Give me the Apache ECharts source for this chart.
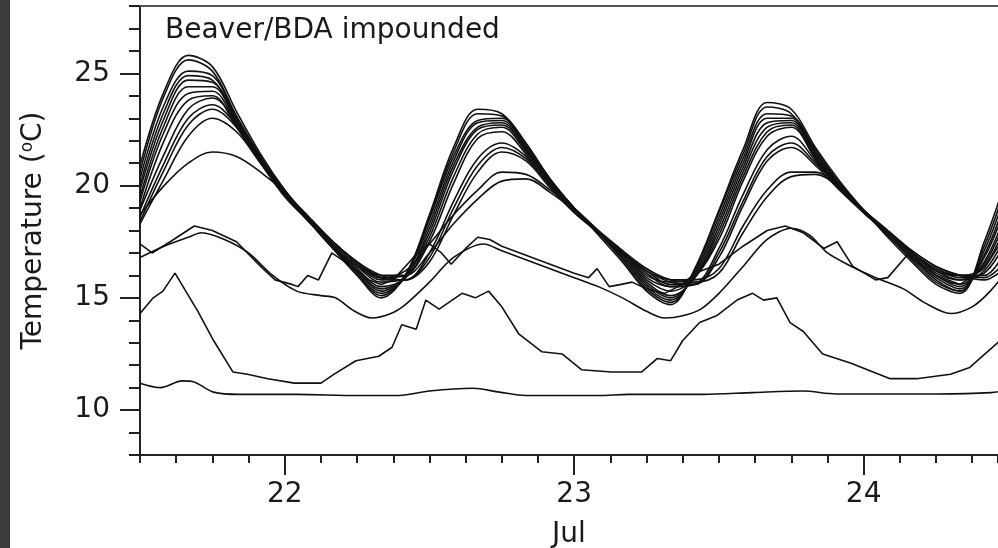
<!DOCTYPE html>
<html>
<head>
<meta charset="utf-8" />
<title></title>
<script src="https://cdn.jsdelivr.net/npm/echarts@6/dist/echarts.min.js"></script>
<style type="text/css">
  body, html {margin:0;padding:0;background:#fff;}
  #main {width:998px;height:548px;position:relative;}
  #strip {position:absolute;left:0;top:0;width:10px;height:548px;background:#3b3b3b;}
</style>
</head>
<body>
<div id="main"></div>
<div id="strip"></div>
<script type="text/javascript">
// hours since Jul 21 00:00
var hours = [12,14,16,18,20,22,24,26,28,30,32,34,36,38,40,42,44,46,48,50,52,54,56,58,60,62,64,66,68,70,72,74,76,78,80,82,84];

// main bundle of loggers (strong diel swing)
var a1 = [20.9,24.2,25.8,25.3,23.3,21.4,19.8,18.5,17.2,16.0,15.0,16.0,18.7,21.7,23.4,23.2,21.9,20.3,19.0,17.8,16.6,15.3,14.7,16.3,18.9,21.6,23.7,23.4,21.7,20.2,18.9,17.7,16.6,15.6,15.2,17.5,20.6];
var a2 = [20.6,24.0,25.6,25.1,23.1,21.3,19.8,18.5,17.3,16.1,15.1,16.0,18.6,21.5,23.2,23.1,21.8,20.3,19.0,17.9,16.7,15.4,14.8,16.2,18.8,21.4,23.5,23.2,21.6,20.1,18.9,17.8,16.7,15.7,15.3,17.3,20.3];
var a3 = [20.3,23.6,25.1,24.9,23.0,21.2,19.7,18.4,17.2,16.1,15.2,16.0,18.5,21.3,22.9,23.0,21.7,20.2,19.0,17.9,16.8,15.5,14.9,16.1,18.6,21.2,23.2,23.1,21.5,20.0,18.9,17.8,16.8,15.8,15.3,17.1,20.0];
var a4 = [20.0,23.3,24.9,24.7,22.9,21.2,19.7,18.5,17.3,16.2,15.3,16.0,18.3,21.1,22.8,22.9,21.7,20.2,19.0,17.9,16.8,15.6,15.0,16.0,18.4,21.0,23.0,23.0,21.4,20.1,18.9,17.8,16.8,15.9,15.4,16.9,19.7];
var a5 = [19.8,23.0,24.7,24.6,22.9,21.1,19.6,18.4,17.2,16.2,15.4,15.9,18.1,20.9,22.6,22.8,21.6,20.1,18.9,17.9,16.9,15.7,15.1,15.9,18.2,20.8,22.8,22.9,21.3,20.0,18.9,17.9,16.9,16.0,15.5,16.8,19.4];
var a6 = [19.5,22.7,24.4,24.4,22.8,21.1,19.6,18.4,17.3,16.3,15.5,15.9,17.9,20.7,22.5,22.7,21.6,20.1,18.9,17.9,16.9,15.8,15.3,15.9,18.0,20.6,22.6,22.8,21.3,20.0,18.9,17.9,16.9,16.0,15.6,16.6,19.1];
var a7 = [19.3,22.4,24.1,24.2,22.7,21.0,19.6,18.4,17.3,16.4,15.7,15.9,17.7,20.4,22.3,22.6,21.5,20.1,18.9,17.9,17.0,15.9,15.5,15.9,17.8,20.4,22.4,22.7,21.2,20.0,18.9,17.9,17.0,16.1,15.8,16.5,18.8];
var a8 = [19.0,22.0,23.8,24.0,22.6,21.0,19.5,18.4,17.3,16.4,15.9,16.0,17.5,20.1,22.1,22.4,21.4,20.0,18.9,17.9,17.0,16.0,15.7,16.0,17.6,20.2,22.2,22.6,21.2,19.9,18.8,17.9,17.0,16.2,16.0,16.4,18.5];
// damped ones
var b1 = [18.9,21.4,23.4,23.9,22.8,21.2,19.7,18.5,17.4,16.5,15.8,15.8,17.0,19.3,21.2,21.9,21.3,20.0,18.9,17.9,17.0,16.1,15.5,15.6,17.2,19.6,21.6,22.2,21.1,19.9,18.8,17.9,17.0,16.2,15.8,16.2,18.0];
var b2 = [18.6,21.0,23.0,23.6,22.7,21.2,19.7,18.5,17.4,16.5,15.9,15.8,16.8,19.0,20.9,21.7,21.2,20.0,18.9,17.9,17.0,16.2,15.6,15.6,17.0,19.3,21.3,21.9,21.0,19.9,18.8,17.9,17.0,16.3,15.9,16.1,17.7];
var b3 = [18.4,20.7,22.7,23.4,22.6,21.1,19.7,18.5,17.5,16.6,16.0,15.8,16.6,18.7,20.6,21.5,21.1,19.9,18.8,17.9,17.0,16.2,15.7,15.6,16.8,19.1,21.1,21.7,20.9,19.8,18.8,17.9,17.0,16.3,16.0,16.0,17.4];
var c1 = [18.7,20.0,21.0,21.5,21.3,20.6,19.7,18.6,17.5,16.6,15.9,16.2,17.4,18.7,19.8,20.6,20.5,19.8,19.0,18.0,17.1,16.3,15.8,15.8,16.3,18.2,19.8,20.6,20.6,19.9,18.9,18.0,17.1,16.4,16.0,15.9,16.8];
var c2 = [18.3,20.3,22.2,23.0,22.4,21.0,19.7,18.6,17.5,16.6,16.0,16.0,17.0,18.3,19.4,20.2,20.3,19.7,18.9,18.0,17.1,16.3,15.8,15.7,16.1,17.9,19.5,20.4,20.5,19.9,18.9,18.0,17.1,16.4,16.0,15.8,16.5];

// irregular loggers: [hour, temp]
var d1 = [[12,17.4],[13,17.0],[14.5,17.5],[16.5,18.2],[18,18.0],[20,17.5],[22,16.4],[23.2,15.8],[24.6,15.6],[25.1,15.5],[25.9,16.0],[26.8,15.8],[27.9,17.0],[29,16.6],[30,16.2],[31,15.8],[32,15.6],[33,15.8],[34,16.4],[35,17.0],[36,17.4],[37,17.0],[37.8,16.5],[39,17.2],[40,17.7],[41,17.6],[42,17.3],[44,16.9],[46,16.5],[48,16.1],[49.2,15.9],[49.9,16.3],[50.9,15.5],[51.9,15.6],[52.8,15.7],[54,15.4],[55.5,15.2],[57,15.6],[58,16.1],[60,16.5],[62,17.3],[64,18.0],[65.5,18.2],[67,17.9],[68.7,17.2],[69.8,17.5],[71.1,16.4],[73,15.8],[74,15.9],[75.6,16.9],[77,16.4],[78,16.0],[80,15.6],[82,16.3],[84,18.0]];
var d2 = [[12,16.8],[14,17.3],[16,17.7],[17.1,17.9],[19,17.6],[21,17.0],[23,16.0],[25,15.3],[27,15.1],[28.2,15.0],[29.8,14.4],[31.2,14.1],[32.8,14.3],[34,14.7],[36,15.7],[38,16.8],[40.5,17.4],[42,17.1],[44,16.7],[46,16.3],[48,15.9],[50,15.5],[52,15.0],[54,14.4],[55.5,14.1],[57,14.2],[58.5,14.5],[60,15.2],[62,16.4],[64,17.6],[66,18.1],[67.5,17.8],[69,17.0],[71,16.4],[73,15.9],[75.3,15.4],[77,14.8],[79.2,14.3],[81,14.6],[82.5,15.3],[84,16.3]];
var f1 = [[12,14.3],[13.1,15.0],[13.9,15.3],[14.9,16.1],[16.8,14.4],[18.1,13.1],[19.7,11.7],[20.9,11.6],[22.6,11.4],[24.8,11.2],[27.0,11.2],[28.1,11.6],[29.9,12.2],[31.8,12.4],[32.9,12.8],[33.7,13.8],[34.9,13.6],[35.7,14.9],[36.8,14.5],[38.7,15.2],[39.8,15.0],[40.9,15.3],[42.0,14.6],[43.4,13.4],[45.3,12.6],[47.0,12.5],[48.6,11.8],[51.1,11.7],[53.6,11.7],[54.9,12.3],[56.0,12.2],[57.0,13.1],[58.4,13.9],[59.8,14.2],[61.5,14.9],[62.8,15.2],[63.7,14.9],[64.8,15.0],[65.9,13.9],[67.0,13.5],[68.6,12.5],[70.9,12.1],[74.2,11.4],[76.4,11.4],[79.2,11.6],[80.8,11.9],[83.1,13.0],[84,13.4]];
var g1 = [[12,11.2],[13.7,11.0],[15.5,11.3],[16.5,11.25],[18.1,10.8],[20.3,10.7],[25,10.7],[30,10.65],[33.5,10.65],[36,10.85],[39.6,10.97],[41.8,10.8],[44,10.65],[50,10.65],[52.5,10.7],[58.7,10.7],[62.8,10.78],[67,10.85],[69.7,10.72],[78,10.72],[82.6,10.78],[84,10.9]];

var dayTicks = [24, 48, 72];
var tempTicks = [10, 15, 20, 25];

var font = 'DejaVu Sans';
var ink = '#1a1a1a';

var chart = echarts.init(document.getElementById('main'));

var series = [];
[a1,a2,a3,a4,a5,a6,a7,a8,b1,b2,b3,c1,c2].forEach(function (arr) {
    series.push({
        type: 'line',
        data: arr.map(function (v, i) { return [hours[i], v]; }),
        smooth: 0.35,
        symbol: 'none',
        lineStyle: {color: '#111', width: 1.6}
    });
});
[d1, d2, f1, g1].forEach(function (arr, k) {
    series.push({
        type: 'line',
        data: arr,
        smooth: k == 1 || k == 3 ? 0.3 : false,
        symbol: 'none',
        lineStyle: {color: '#111', width: 1.6}
    });
});

var option = {
    animation: false,
    backgroundColor: '#fff',
    title: {
        text: 'Beaver/BDA impounded',
        left: 160,
        top: 12,
        textStyle: {fontFamily: font, fontSize: 28, fontWeight: 'normal', color: ink}
    },
    grid: {left: 140, right: 0, top: 6, bottom: 93, outerBoundsMode: 'none', containLabel: false},
    xAxis: [
        {
            type: 'value', min: 12, max: 83.14, position: 'bottom',
            axisLine: {show: true, lineStyle: {color: '#222', width: 2}},
            axisTick: {show: true, customValues: dayTicks, length: 20, lineStyle: {color: '#222', width: 2}},
            axisLabel: {customValues: dayTicks, margin: 26, fontFamily: font, fontSize: 28, color: ink,
                formatter: function (v) { return String(21 + v / 24); }},
            splitLine: {show: false},
            name: 'Jul', nameLocation: 'middle', nameGap: 66,
            nameTextStyle: {fontFamily: font, fontSize: 28, color: ink}
        },
        {
            type: 'value', min: 12, max: 83.14, interval: 3, position: 'bottom',
            axisLine: {show: false},
            axisTick: {show: true, length: 8, lineStyle: {color: '#222', width: 2}},
            axisLabel: {show: false},
            splitLine: {show: false}
        },
        {
            type: 'value', min: 12, max: 83.14, position: 'top',
            axisLine: {show: true, lineStyle: {color: '#555', width: 2}},
            axisTick: {show: false}, axisLabel: {show: false}, splitLine: {show: false}
        }
    ],
    yAxis: [
        {
            type: 'value', min: 8, max: 28, position: 'left',
            axisLine: {show: true, lineStyle: {color: '#222', width: 2}},
            axisTick: {show: true, customValues: tempTicks, length: 20, lineStyle: {color: '#222', width: 2}},
            axisLabel: {customValues: tempTicks, margin: 30, fontFamily: font, fontSize: 28, color: ink},
            splitLine: {show: false},
            name: 'Temperature ({sup|o}C)', nameLocation: 'middle', nameGap: 92,
            nameTextStyle: {fontFamily: font, fontSize: 28, color: ink,
                rich: {sup: {fontFamily: font, fontSize: 17, color: ink, verticalAlign: 'top', padding: [0, 0, 12, 0]}}}
        },
        {
            type: 'value', min: 8, max: 28, interval: 1, position: 'left',
            axisLine: {show: false},
            axisTick: {show: true, length: 11, lineStyle: {color: '#222', width: 2}},
            axisLabel: {show: false},
            splitLine: {show: false}
        }
    ],
    series: series
};
chart.setOption(option);
</script>
</body>
</html>
